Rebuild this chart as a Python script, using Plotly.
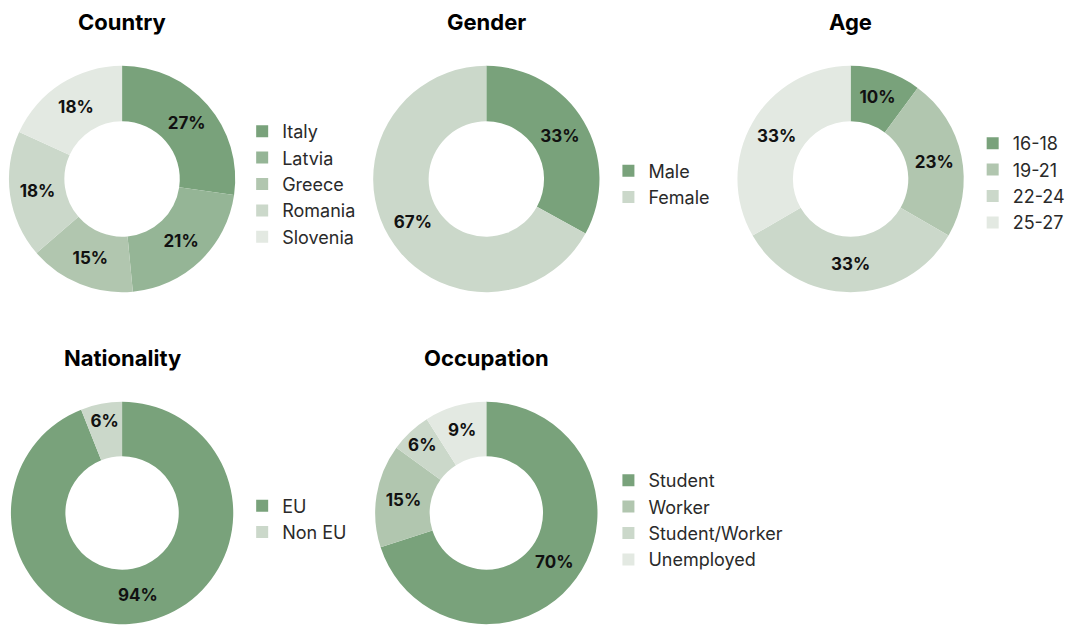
import plotly.graph_objects as go

W, H = 1070, 625

DARK = "#79A27B"
C2 = "#95B596"
C3 = "#B1C6AF"
C4 = "#CBD8CA"
C5 = "#E3E9E2"

country_labels = ["Italy", "Latvia", "Greece", "Romania", "Slovenia"]
country_values = [27, 21, 15, 18, 18]
country_colors = [DARK, C2, C3, C4, C5]

gender_labels = ["Male", "Female"]
gender_values = [33, 67]
gender_colors = [DARK, C4]

age_labels = ["16-18", "19-21", "22-24", "25-27"]
age_values = [10, 23, 33, 33]
age_colors = [DARK, C3, C4, C5]

nationality_labels = ["EU", "Non EU"]
nationality_values = [94, 6]
nationality_colors = [DARK, C4]

occupation_labels = ["Student", "Worker", "Student/Worker", "Unemployed"]
occupation_values = [70, 15, 6, 9]
occupation_colors = [DARK, C3, C4, C5]

titles = ["Country", "Gender", "Age", "Nationality", "Occupation"]

FONT = "Inter"

# layout in pixels: (center x, center y, radius, legend left x, legend center y, title y)
panels = [
    (country_labels, country_values, country_colors, 123, 179, 114, 244, 184, 22),
    (gender_labels, gender_values, gender_colors, 490, 179, 114, 613, 184, 22),
    (age_labels, age_values, age_colors, 857, 179, 114, 980, 183, 22),
    (nationality_labels, nationality_values, nationality_colors, 123, 513, 112, 244, 519, 358),
    (occupation_labels, occupation_values, occupation_colors, 490, 513, 112, 613, 520, 358),
]

fig = go.Figure()
annotations = []
legends = {}
for i, (labels, values, colors, cx, cy, r, lx, ly, ty) in enumerate(panels):
    lname = "legend" if i == 0 else f"legend{i+1}"
    x0, x1 = (cx - r) / W, (cx + r) / W
    y0, y1 = max(0.0, 1 - (cy + r) / H), min(1.0, 1 - (cy - r) / H)
    fig.add_trace(go.Pie(
        labels=labels, values=values,
        marker=dict(colors=colors),
        hole=0.51, sort=False, direction="clockwise", rotation=0,
        textposition="inside", insidetextorientation="horizontal",
        texttemplate="<b>%{value}%</b>",
        textfont=dict(family=FONT, size=17, color="#111111"),
        domain=dict(x=[x0, x1], y=[y0, y1]),
        legend=lname, showlegend=True, hoverinfo="label+value",
    ))
    legends[lname] = dict(
        x=lx / W, xanchor="left", y=1 - ly / H, yanchor="middle",
        font=dict(family=FONT, size=18, color="#2a2a2a"),
        bgcolor="rgba(0,0,0,0)", traceorder="normal",
    )
    annotations.append(dict(
        text=f"<b>{titles[i]}</b>", x=cx / W, y=1 - ty / H,
        xref="paper", yref="paper", xanchor="center", yanchor="middle",
        showarrow=False, font=dict(family=FONT, size=22, color="#000000"),
    ))

fig.update_layout(
    width=W, height=H,
    margin=dict(l=0, r=0, t=0, b=0),
    paper_bgcolor="white", plot_bgcolor="white",
    annotations=annotations,
    uniformtext=dict(minsize=17, mode="show"),
    **legends,
)

fig.write_html("out.html")
